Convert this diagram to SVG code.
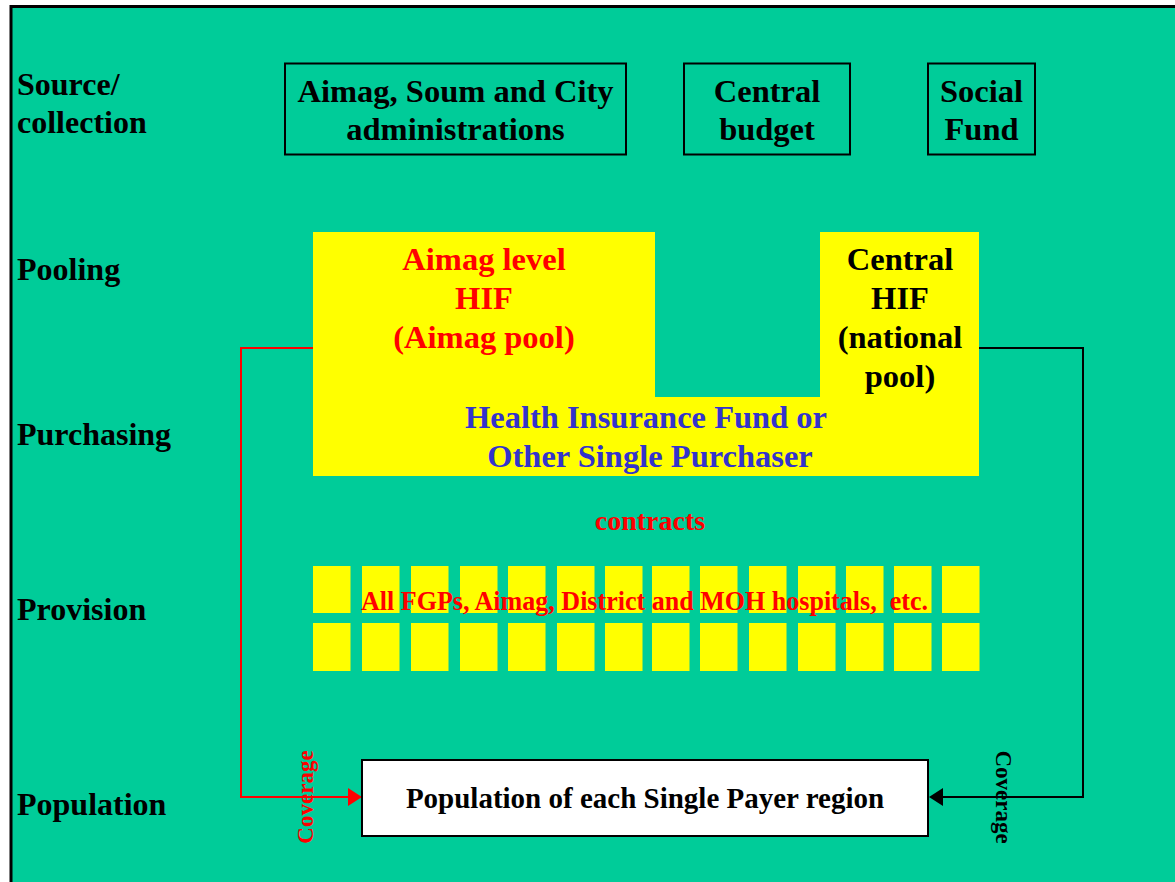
<svg xmlns="http://www.w3.org/2000/svg" width="1175" height="882" viewBox="0 0 1175 882">
  <style>
    text { font-family: "Liberation Serif", "Times New Roman", serif; font-weight: bold; }
    .lbl { font-size: 32px; fill: #000; }
    .src { font-size: 32.5px; fill: #000; text-anchor: middle; }
    .srcbox { fill: none; stroke: #000; stroke-width: 2; }
    .pool { fill: #ffff00; }
    .prov { fill: #ffff00; }
    .red { fill: #ff0000; }
    .blue { fill: #3333cc; }
    .mid { text-anchor: middle; }
    .big { font-size: 32.5px; }
  </style>

  <!-- background and frame -->
  <rect x="0" y="0" width="1175" height="882" fill="#ffffff"/>
  <rect x="11" y="6.5" width="1180" height="890" fill="#00cc99" stroke="#000" stroke-width="3"/>

  <!-- row labels -->
  <g id="row-labels">
    <text class="lbl" x="17" y="95">Source/</text>
    <text class="lbl" x="17" y="133">collection</text>
    <text class="lbl" x="17" y="280">Pooling</text>
    <text class="lbl" x="17" y="445">Purchasing</text>
    <text class="lbl" x="17" y="620">Provision</text>
    <text class="lbl" x="17" y="815">Population</text>
  </g>

  <!-- sources -->
  <g id="src-admin">
    <rect class="srcbox" x="285" y="63.5" width="341" height="91"/>
    <text class="src" x="455.5" y="102">Aimag, Soum and City</text>
    <text class="src" x="455.5" y="140">administrations</text>
  </g>
  <g id="src-central">
    <rect class="srcbox" x="684" y="63.5" width="166" height="91"/>
    <text class="src" x="767" y="102">Central</text>
    <text class="src" x="767" y="140">budget</text>
  </g>
  <g id="src-social">
    <rect class="srcbox" x="928" y="63.5" width="107" height="91"/>
    <text class="src" x="981.5" y="102">Social</text>
    <text class="src" x="981.5" y="140">Fund</text>
  </g>

  <!-- connectors -->
  <g id="connectors" fill="none">
    <polyline points="314,348 241,348 241,797 350,797" stroke="#ff0000" stroke-width="2"/>
    <polygon points="362,797 348,788 348,806" fill="#ff0000"/>
    <polyline points="979,348 1083,348 1083,797 941,797" stroke="#000" stroke-width="2"/>
    <polygon points="929,797 943,788 943,806" fill="#000"/>
  </g>

  <!-- pooling -->
  <g id="pool-aimag">
    <rect class="pool" x="313" y="232" width="342" height="170"/>
    <text class="red mid big" x="484" y="270">Aimag level</text>
    <text class="red mid big" x="484" y="309">HIF</text>
    <text class="red mid big" x="484" y="348">(Aimag pool)</text>
  </g>
  <g id="pool-central">
    <rect class="pool" x="820" y="232" width="159" height="170"/>
    <text class="mid big" x="900" y="270">Central</text>
    <text class="mid big" x="900" y="309">HIF</text>
    <text class="mid big" x="900" y="348">(national</text>
    <text class="mid big" x="900" y="387">pool)</text>
  </g>

  <!-- purchasing -->
  <g id="purchaser">
    <rect class="pool" x="313" y="397" width="666" height="79"/>
    <text class="blue mid big" x="646" y="428">Health Insurance Fund or</text>
    <text class="blue mid big" x="650" y="467">Other Single Purchaser</text>
  </g>

  <g id="contracts">
    <text class="red mid" x="650" y="530" font-size="28">contracts</text>
  </g>

  <!-- providers -->
  <g id="providers">
    <g class="prov">
      <rect x="313" y="566" width="37.5" height="47"/><rect x="362" y="566" width="37.5" height="47"/>
      <rect x="411" y="566" width="37.5" height="47"/><rect x="460" y="566" width="37.5" height="47"/>
      <rect x="508" y="566" width="37.5" height="47"/><rect x="557" y="566" width="37.5" height="47"/>
      <rect x="605" y="566" width="37.5" height="47"/><rect x="652" y="566" width="37.5" height="47"/>
      <rect x="700" y="566" width="37.5" height="47"/><rect x="749" y="566" width="37.5" height="47"/>
      <rect x="798" y="566" width="37.5" height="47"/><rect x="846" y="566" width="37.5" height="47"/>
      <rect x="894" y="566" width="37.5" height="47"/><rect x="942" y="566" width="37.5" height="47"/>
      <rect x="313" y="623" width="37.5" height="48"/><rect x="362" y="623" width="37.5" height="48"/>
      <rect x="411" y="623" width="37.5" height="48"/><rect x="460" y="623" width="37.5" height="48"/>
      <rect x="508" y="623" width="37.5" height="48"/><rect x="557" y="623" width="37.5" height="48"/>
      <rect x="605" y="623" width="37.5" height="48"/><rect x="652" y="623" width="37.5" height="48"/>
      <rect x="700" y="623" width="37.5" height="48"/><rect x="749" y="623" width="37.5" height="48"/>
      <rect x="798" y="623" width="37.5" height="48"/><rect x="846" y="623" width="37.5" height="48"/>
      <rect x="894" y="623" width="37.5" height="48"/><rect x="942" y="623" width="37.5" height="48"/>
    </g>
    <text class="red" x="361" y="610" font-size="28" textLength="567" lengthAdjust="spacingAndGlyphs" xml:space="preserve">All FGPs, Aimag, District and MOH hospitals,  etc.</text>
  </g>

  <!-- population -->
  <g id="population">
    <rect x="362" y="760" width="566" height="76" fill="#ffffff" stroke="#000" stroke-width="2"/>
    <text class="mid" x="645" y="808" font-size="29">Population of each Single Payer region</text>
  </g>

  <g id="coverage-labels">
    <text class="red mid" font-size="23" transform="translate(313,797) rotate(-90)">Coverage</text>
    <text class="mid" font-size="23" transform="translate(996,797) rotate(90)">Coverage</text>
  </g>
</svg>
